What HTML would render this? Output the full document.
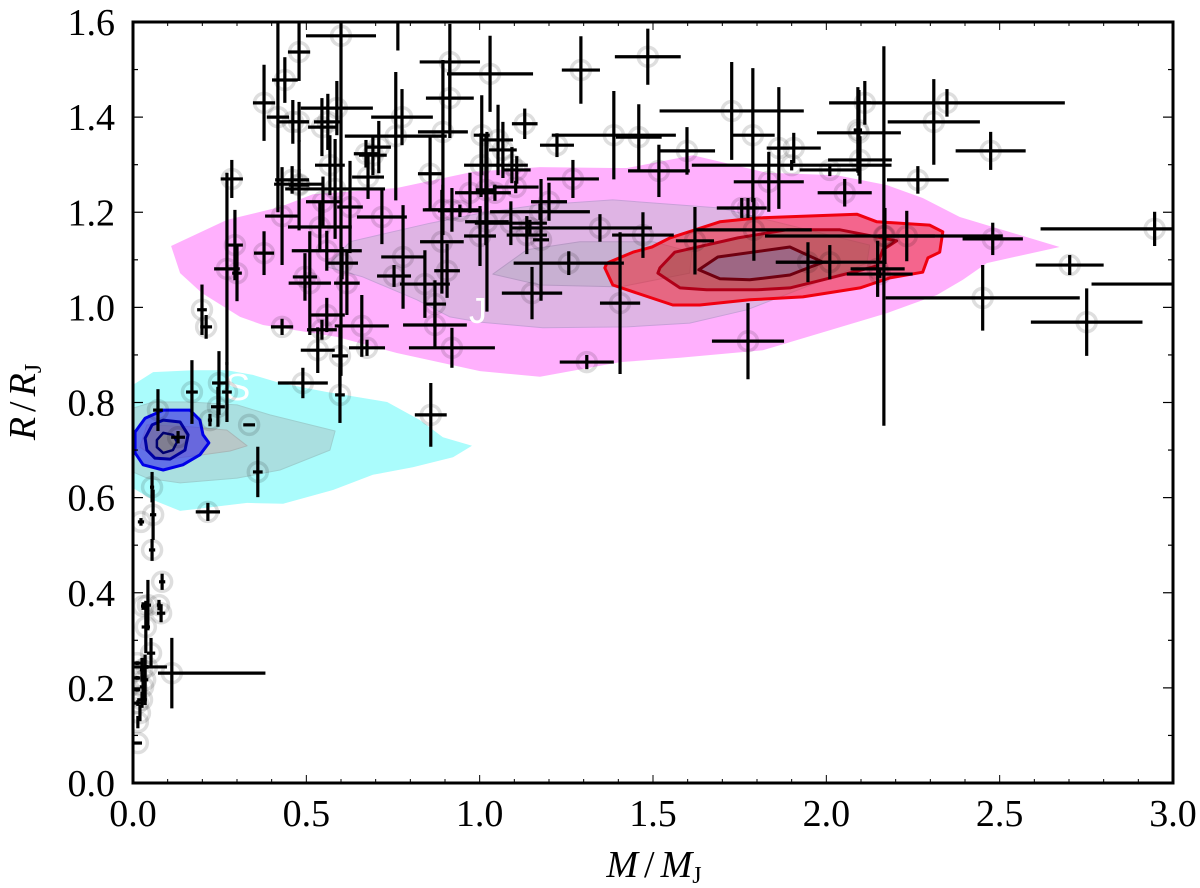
<!DOCTYPE html>
<html>
<head>
<meta charset="utf-8">
<title>Mass-radius chart</title>
<style>
html,body{margin:0;padding:0;background:#fff;width:1200px;height:888px;overflow:hidden}
svg{display:block}
text{font-family:"Liberation Serif",serif;fill:#000}
</style>
</head>
<body>
<svg id="chart" xmlns="http://www.w3.org/2000/svg" width="1200" height="888" viewBox="0 0 1200 888"></svg>
<script>
const xTickLabels = [0.0, 0.5, 1.0, 1.5, 2.0, 2.5, 3.0];
const yTickLabels = [0.0, 0.2, 0.4, 0.6, 0.8, 1.0, 1.2, 1.4, 1.6];

const planetMass = [.600,.479,.438,.378,.418,.461,.479,.479,.588,.545,.562,.776,.709,.758,.692,.672,.678,.894,.857,.914,.914,1.030,.285,.459,.479,.430,.568,.583,.548,.626,.539,.559,.718,.378,.294,.271,.300,.603,.496,.510,.617,.779,.753,.842,.871,.906,.891,.430,.545,.559,.660,.871,.533,.675,.597,.920,.199,.211,.490,.920,.894,.943,1.004,1.018,1.006,1.053,1.067,1.021,.972,1.001,1.093,1.107,1.044,1.104,1.177,1.130,1.223,1.485,1.292,1.387,1.459,1.598,1.517,1.269,1.727,1.788,1.863,1.834,1.906,1.900,2.097,2.010,2.094,1.200,1.174,1.090,1.136,1.145,1.347,1.471,1.621,1.756,1.774,1.791,1.791,1.947,2.010,1.257,1.151,1.405,1.774,1.309,2.348,2.111,2.091,2.310,2.474,2.264,2.166,2.053,2.232,2.169,2.480,2.947,2.702,2.451,2.751,3.048,2.148,2.154,.859,.597,.360,.335,.216,.130,.072,.170,.248,.245,.271,.222,.055,.058,.023,.055,.084,.075,.081,.029,.043,.037,.052,.040,.035,.026,.014,.014,.020,.014,.012,.012,.012,.026,.029,.764];
const planetMassError = [.101,.032,.037,.032,.032,.046,.029,.029,.104,.040,.040,.089,.035,.147,.040,.035,.046,.072,.035,.087,.069,.124,.032,.049,.072,.049,.043,.144,.049,.037,.092,.101,.072,.029,.023,.037,.014,.046,.035,.061,.037,.063,.049,.072,.032,.037,.063,.032,.043,.052,.078,.092,.049,.052,.023,.124,.014,.017,.072,.078,.058,.063,.049,.029,.023,.043,.040,.063,.043,.046,.046,.040,.046,.066,.023,.037,.049,.095,.055,.179,.066,.081,.089,.075,.208,.063,.029,.101,.078,.288,.092,.087,.121,.052,.144,.104,.058,.058,.150,.089,.055,.072,.009,.009,.167,.092,.156,.159,.087,.058,.104,.078,.340,.017,.012,.133,.101,.089,.343,.078,.081,.020,.087,.329,.098,.280,.161,.283,.078,.095,.046,.014,.014,.017,.035,.020,.014,.017,.020,.020,.014,.006,.006,.009,.009,.009,.009,.006,.012,.006,.009,.012,.012,.058,.009,.006,.003,.012,.003,.014,.009,.009,.014,.014,.009,.006];
const planetRadius = [1.571,1.537,1.478,1.430,1.400,1.390,1.390,1.257,1.419,1.379,1.390,1.400,1.337,1.360,1.320,1.323,1.274,1.369,1.281,1.516,1.440,1.491,1.270,1.268,1.259,1.192,1.299,1.249,1.222,1.211,1.169,1.119,1.190,1.114,1.131,1.081,1.072,1.093,1.064,1.051,1.051,1.106,1.066,1.049,1.007,1.077,1.138,.959,.953,.984,.961,.963,.910,.915,.898,.915,.995,.959,.841,1.205,1.205,1.203,1.299,1.247,1.362,1.352,1.331,1.180,1.241,1.150,1.299,1.289,1.241,1.253,1.142,1.386,1.341,1.527,1.499,1.362,1.358,1.329,1.287,1.270,1.413,1.362,1.335,1.264,1.335,1.299,1.310,1.289,1.367,1.222,1.201,1.177,1.152,1.167,1.167,1.152,1.140,1.209,1.209,1.209,1.163,1.095,1.095,1.093,1.030,1.009,.929,.885,1.430,1.430,1.373,1.390,1.329,1.268,1.150,1.241,1.150,1.150,1.144,1.165,1.089,1.020,.969,1.049,1.081,1.070,.774,.816,.654,.753,.570,.727,.784,.822,.841,.791,.822,.763,.622,.564,.549,.490,.423,.374,.357,.372,.374,.328,.273,.244,.217,.238,.128,.084,.147,.168,.196,.221,.252,.175,.202,1.650];
const planetRadiusError = [.715,.061,.048,.080,.200,.046,.042,.095,.057,.061,.059,.059,.055,.135,.042,.029,.046,.151,.078,.080,.084,.080,.040,.029,.032,.103,.063,.105,.053,.097,.053,.042,.057,.046,.074,.202,.059,.034,.050,.109,.067,.109,.023,.071,.050,.057,.109,.017,.021,.036,.065,.050,.048,.017,.063,.042,.053,.025,.032,.046,.053,.013,.067,.116,.084,.074,.059,.189,.042,.063,.038,.029,.017,.013,.128,.032,.025,.059,.071,.093,.069,.050,.055,.040,.103,.141,.128,.063,.032,.011,.050,.013,.090,.040,.017,.046,.040,.017,.029,.048,.071,.021,.021,.021,.065,.042,.036,.025,.055,.149,.080,.015,.029,.046,.090,.090,.040,.029,.399,.029,.053,.059,.034,.036,.021,.069,.071,.040,.059,.008,.067,.059,.053,.002,.019,.013,.044,.067,.067,.042,.063,.013,.032,.053,.008,.023,.017,.011,.019,.008,.053,.055,.032,.004,.053,.025,.013,.002,.017,.006,.004,.004,.004,.017,.025,.110];

const skewedMass = [.112];
const skewedMassErrorLow = [.04];
const skewedMassErrorHigh = [.27];
const skewedRadius = [.231];
const skewedRadiusError = [.074];

const pinkOuterMass = [.110,.271,.424,.519,.761,.981,1.174,1.384,1.425,1.615,1.828,2.030,2.175,2.278,2.385,2.673,2.463,2.394,2.319,2.175,2.010,1.817,1.578,1.405,1.174,1.001,.761,.588,.375,.309,.199,.136];
const pinkOuterRadius = [1.129,1.184,1.211,1.238,1.251,1.285,1.295,1.293,1.293,1.320,1.283,1.278,1.257,1.230,1.190,1.127,1.093,1.058,1.026,.988,.952,.910,.894,.885,.854,.866,.904,.938,.963,.980,1.030,1.072];
const pinkMiddleMass = [.559,.626,.857,1.001,1.165,1.384,1.693,2.125,2.117,1.771,1.606,1.425,1.182,1.001,.914,.819,.663];
const pinkMiddleRadius = [1.085,1.138,1.177,1.198,1.215,1.226,1.209,1.131,1.093,.995,.967,.959,.957,.969,.980,1.016,1.064];
const pinkInnerMass = [1.038,1.136,1.289,1.500,1.612,1.606,1.405,1.174];
const pinkInnerRadius = [1.070,1.121,1.138,1.138,1.116,1.072,1.043,1.047];
const redOuterMass = [1.361,1.367,1.442,1.497,1.549,1.693,1.800,2.088,2.146,2.298,2.336,2.327,2.293,2.278,2.183,2.097,1.932,1.779,1.635,1.557,1.384];
const redOuterRadius = [1.083,1.093,1.116,1.127,1.146,1.180,1.188,1.196,1.180,1.173,1.159,1.116,1.104,1.074,1.062,1.041,1.022,1.016,1.005,1.005,1.047];
const redMiddleMass = [1.514,1.520,1.563,1.745,1.886,2.039,2.203,2.163,2.146,1.990,1.895,1.800,1.655,1.578];
const redMiddleRadius = [1.072,1.083,1.116,1.146,1.163,1.163,1.140,1.121,1.087,1.058,1.041,1.037,1.037,1.041];
const redInnerMass = [1.632,1.687,1.895,1.990,1.895,1.779,1.693];
const redInnerRadius = [1.079,1.106,1.127,1.095,1.068,1.058,1.060];
const cyanOuterMass = [0,.058,.173,.271,.346,.424,.559,.733,.828,.894,.978,.923,.807,.692,.577,.433,.329,.136,.058,0];
const cyanOuterRadius = [.837,.864,.868,.868,.858,.841,.822,.801,.763,.727,.709,.685,.664,.648,.616,.587,.589,.572,.595,.620];
const cyanMiddleMass = [0,.058,.164,.300,.395,.583,.568,.424,.300,.136,.040,0];
const cyanMiddleRadius = [.788,.801,.801,.795,.774,.740,.700,.658,.641,.631,.641,.654];
const cyanInnerMass = [.040,.164,.271,.329,.280,.202,.078,.020];
const cyanInnerRadius = [.753,.749,.742,.709,.698,.690,.679,.706];
const blueOuterMass = [.006,.035,.087,.164,.193,.202,.219,.193,.144,.087,.029,.006];
const blueOuterRadius = [.738,.767,.784,.784,.763,.732,.715,.690,.669,.658,.669,.694];
const blueMiddleMass = [.035,.055,.087,.136,.159,.150,.107,.063,.040];
const blueMiddleRadius = [.725,.753,.763,.759,.732,.700,.681,.683,.700];
const blueInnerMass = [.069,.087,.115,.127,.115,.087,.069];
const blueInnerRadius = [.721,.736,.732,.717,.700,.694,.706];

const NS = 'http://www.w3.org/2000/svg';
const svg = document.getElementById('chart');
const plotLeft = 133, plotRight = 1173, plotTop = 22, plotBottom = 783;
function xScale(m){ return plotLeft + (m / 3.0) * (plotRight - plotLeft); }
function yScale(r){ return plotBottom - (r / 1.6) * (plotBottom - plotTop); }
function make(tag, attrs, parent){
  const el = document.createElementNS(NS, tag);
  for (const k in attrs) el.setAttribute(k, attrs[k]);
  (parent || svg).appendChild(el);
  return el;
}

const defs = make('defs', {});
const clip = make('clipPath', {id:'plot-clip'}, defs);
make('rect', {x:plotLeft, y:plotTop, width:plotRight-plotLeft, height:plotBottom-plotTop}, clip);
const plot = make('g', {'clip-path':'url(#plot-clip)'});



function contour(name, masses, radii, fill, stroke, sw){
  const pts = masses.map((m, i) => xScale(m).toFixed(1) + ',' + yScale(radii[i]).toFixed(1)).join(' ');
  const p = make('polygon', {points:pts, fill:fill, stroke:stroke, 'stroke-width':sw, 'stroke-linejoin':'round'}, plot);
  
  
}
contour('pink-contour-outer', pinkOuterMass, pinkOuterRadius, '#ffb0fd', 'none', 0);
contour('pink-contour-middle', pinkMiddleMass, pinkMiddleRadius, '#dfb4e4', '#c9a0d8', 1);
contour('pink-contour-inner', pinkInnerMass, pinkInnerRadius, '#c8b0d2', '#b79ac4', 1);
contour('cyan-contour-outer', cyanOuterMass, cyanOuterRadius, '#aafcfc', 'none', 0);
contour('cyan-contour-middle', cyanMiddleMass, cyanMiddleRadius, '#aadfe0', '#9cd0d0', 1);
contour('cyan-contour-inner', cyanInnerMass, cyanInnerRadius, '#b8c8c8', '#a8b8b8', 1);
contour('red-contour-outer', redOuterMass, redOuterRadius, 'rgba(235,40,50,0.55)', '#f00010', 3);
contour('red-contour-middle', redMiddleMass, redMiddleRadius, 'rgba(120,60,40,0.3)', '#b00018', 3);
contour('red-contour-inner', redInnerMass, redInnerRadius, 'rgba(90,130,190,0.35)', '#700010', 3);
contour('blue-contour-outer', blueOuterMass, blueOuterRadius, 'rgba(50,40,235,0.6)', '#0000e8', 3);
contour('blue-contour-middle', blueMiddleMass, blueMiddleRadius, 'rgba(130,120,110,0.4)', '#0000a0', 3);
contour('blue-contour-inner', blueInnerMass, blueInnerRadius, 'rgba(150,150,100,0.4)', '#000070', 2.5);

const jupiter = make('text', {x:469, y:323, 'font-size':36, style:'fill:#fff;font-family:\'Liberation Sans\',sans-serif'}, plot);
jupiter.textContent = 'J';


const saturn = make('text', {x:225, y:400, 'font-size':38, style:'fill:#fff;font-family:\'Liberation Sans\',sans-serif'}, plot);
saturn.textContent = 'S';



function circleAt(m, r){
  const c = make('circle', {cx:xScale(m), cy:yScale(r), r:9.5, fill:'none', stroke:'rgba(0,0,0,0.13)', 'stroke-width':3.5}, plot);
  
  
}
function crossAt(m, r, low, high, re){
  const cx = xScale(m), cy = yScale(r);
  const h = make('line', {x1:xScale(m - low), x2:xScale(m + high), y1:cy, y2:cy, stroke:'#000', 'stroke-width':3.2}, plot);
  
  
  const v = make('line', {x1:cx, x2:cx, y1:yScale(r - re), y2:yScale(r + re), stroke:'#000', 'stroke-width':3.2}, plot);
  
  
}
planetMass.forEach((m, i) => circleAt(m, planetRadius[i]));
skewedMass.forEach((m, i) => circleAt(m, skewedRadius[i]));
planetMass.forEach((m, i) => crossAt(m, planetRadius[i], planetMassError[i], planetMassError[i], planetRadiusError[i]));
skewedMass.forEach((m, i) => crossAt(m, skewedRadius[i], skewedMassErrorLow[i], skewedMassErrorHigh[i], skewedRadiusError[i]));

for (let t = 0; t <= 30; t++) {
  const m = t / 10, major = t % 5 === 0, len = major ? 8 : 4;
  const a = make('line', {x1:xScale(m), x2:xScale(m), y1:plotBottom, y2:plotBottom-len, stroke:'#000', 'stroke-width':1});
  
  
  const b = make('line', {x1:xScale(m), x2:xScale(m), y1:plotTop, y2:plotTop+len, stroke:'#000', 'stroke-width':1});
  
  
}
for (let t = 0; t <= 16; t++) {
  const r = t / 10, major = t % 2 === 0, len = major ? 10 : 5;
  const a = make('line', {x1:plotLeft, x2:plotLeft+len, y1:yScale(r), y2:yScale(r), stroke:'#000', 'stroke-width':1.2});
  
  
  const b = make('line', {x1:plotRight, x2:plotRight-len, y1:yScale(r), y2:yScale(r), stroke:'#000', 'stroke-width':1.2});
  
  
}

const frame = make('rect', {x:plotLeft, y:plotTop, width:plotRight-plotLeft, height:plotBottom-plotTop, fill:'none', stroke:'#000', 'stroke-width':3});



xTickLabels.forEach(v => {
  const t = make('text', {x:xScale(v), y:826, 'font-size':38, 'text-anchor':'middle'});
  t.textContent = v.toFixed(1);
  
  
});
yTickLabels.forEach(v => {
  const t = make('text', {x:115, y:yScale(v)+13, 'font-size':38, 'text-anchor':'end'});
  t.textContent = v.toFixed(1);
  
  
});

const xTitle = make('text', {x:654, y:877, 'font-size':38, 'text-anchor':'middle'});
xTitle.innerHTML = '<tspan font-style="italic">M</tspan><tspan dx="6">/</tspan><tspan font-style="italic" dx="6">M</tspan><tspan font-size="24" dy="6">J</tspan>';


const yTitle = make('text', {x:0, y:0, 'font-size':38, 'text-anchor':'middle', transform:'translate(35,402) rotate(-90)'});
yTitle.innerHTML = '<tspan font-style="italic">R</tspan><tspan dx="5">/</tspan><tspan font-style="italic" dx="5">R</tspan><tspan font-size="24" dy="6">J</tspan>';


</script>
</body>
</html>
